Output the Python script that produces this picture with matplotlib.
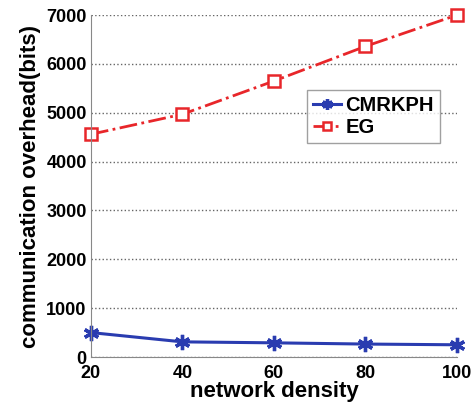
import matplotlib
matplotlib.use("Agg")
import matplotlib.pyplot as plt

density = [20, 40, 60, 80, 100]
cmrkph = [500, 310, 290, 265, 250]
eg = [4560, 4970, 5650, 6360, 7000]

plt.rcParams['font.family'] = ['Liberation Sans', 'DejaVu Sans']
plt.rcParams['font.weight'] = 'bold'

fig = plt.figure(figsize=(4.71, 4.08), dpi=100)
ax = fig.add_axes([0.193, 0.125, 0.777, 0.838])

ax.plot(density, cmrkph, color='#2a3cb0', linewidth=2.2, marker=(6, 2, 0),
        markersize=11, markeredgewidth=2.4, label='CMRKPH', clip_on=False)
ax.plot(density, eg, color='#e8262a', linewidth=2, linestyle='-.', marker='s',
        markersize=8, markerfacecolor='white', markeredgewidth=1.8, label='EG',
        clip_on=False)

ax.set_xlim(20, 100)
ax.set_ylim(0, 7000)
ax.set_xticks(density)
ax.set_yticks(range(0, 7001, 1000))
ax.yaxis.grid(True, linestyle=':', color='#666666', linewidth=1)
ax.set_axisbelow(True)
for s in ['top', 'right']:
    ax.spines[s].set_visible(False)
for s in ['left', 'bottom']:
    ax.spines[s].set_color('#888888')
ax.tick_params(labelsize=13, length=0)
ax.tick_params(axis='y', pad=3)
ax.tick_params(axis='x', pad=6)
for lbl in ax.get_xticklabels() + ax.get_yticklabels():
    lbl.set_fontweight('bold')

ax.set_xlabel('network density', fontsize=16, fontweight='bold', labelpad=-1)
ax.set_ylabel('communication overhead(bits)', fontsize=16, fontweight='bold', labelpad=4)

leg = ax.legend(loc='upper left', bbox_to_anchor=(0.563, 0.81), fontsize=14.5,
                frameon=True, fancybox=False, edgecolor='#888888',
                handlelength=1.4, handletextpad=0.2, borderpad=0.3,
                labelspacing=0.15, markerscale=0.7)
leg.get_frame().set_linewidth(1)

fig.savefig('out.png', dpi=100)
